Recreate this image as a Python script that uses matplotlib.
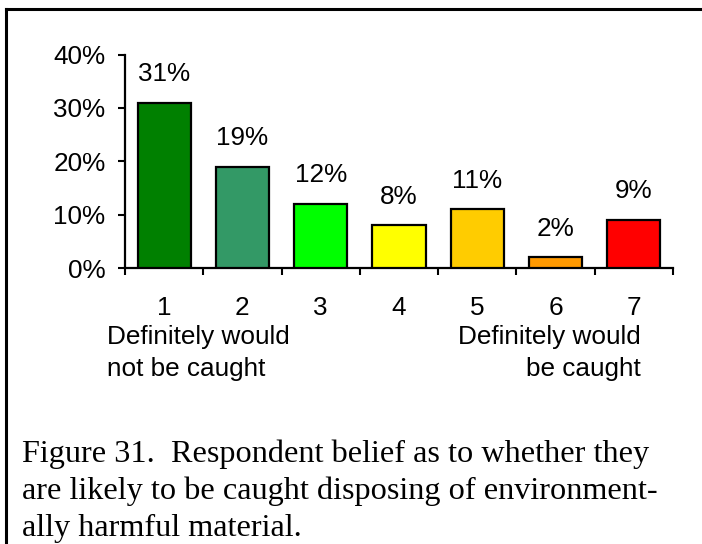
import matplotlib
matplotlib.use("Agg")
import matplotlib.pyplot as plt
from matplotlib.lines import Line2D
from matplotlib.ticker import FuncFormatter

# data
categories = ["1", "2", "3", "4", "5", "6", "7"]
values = [0.31, 0.19, 0.12, 0.08, 0.11, 0.02, 0.09]
bar_colors = ["#008000", "#339966", "#00FF00", "#FFFF00", "#FFCC00", "#FF9900", "#FF0000"]
caption_lines = [
    "Figure 31.  Respondent belief as to whether they",
    "are likely to be caught disposing of environment-",
    "ally harmful material.",
]

W, H = 702, 544
fig = plt.figure(figsize=(W / 100, H / 100), dpi=100)
plt.rcParams["font.family"] = ["Liberation Sans", "DejaVu Sans"]


def fx(px):
    return px / W


def fy(py):
    return 1 - py / H


# axes placed in pixel coordinates
ax = fig.add_axes([fx(125), fy(268), fx(673 - 125), (268 - 54.5) / H])

x = list(range(len(categories)))
ax.bar(x, values, width=0.68, color=bar_colors, edgecolor="black", linewidth=1.6, zorder=3)

for xi, v in zip(x, values):
    ax.annotate(f"{v:.0%}", (xi, v), xytext=(0, 20.5), textcoords="offset points",
                ha="center", va="center", fontsize=18.8)

ax.set_xlim(-0.5, len(categories) - 0.5)
ax.set_ylim(0, 0.4)
ax.set_yticks([0, 0.1, 0.2, 0.3, 0.4])
ax.yaxis.set_major_formatter(FuncFormatter(lambda v, p: f"{v:.0%}"))
ax.tick_params(axis="y", direction="out", length=5, width=1.5, pad=9, labelsize=18.8)

ax.set_xticks(x)
ax.set_xticklabels(categories)
ax.set_xticks([i - 0.5 for i in range(len(categories) + 1)], minor=True)
ax.tick_params(axis="x", which="major", length=0, pad=20, labelsize=18.8)
ax.tick_params(axis="x", which="minor", direction="out", length=5, width=1.5)

for side in ["top", "right"]:
    ax.spines[side].set_visible(False)
for side in ["left", "bottom"]:
    ax.spines[side].set_linewidth(1.6)

# end labels under the axis
fig.text(fx(107), fy(344), "Definitely would", ha="left", va="baseline", fontsize=18.8)
fig.text(fx(107), fy(376), "not be caught", ha="left", va="baseline", fontsize=18.8)
fig.text(fx(641), fy(344), "Definitely would", ha="right", va="baseline", fontsize=18.8)
fig.text(fx(641), fy(376), "be caught", ha="right", va="baseline", fontsize=18.8)

# caption
for i, line in enumerate(caption_lines):
    fig.text(fx(22), fy(462 + i * 37), line, ha="left", va="baseline",
             fontsize=23.2, family=["Liberation Serif", "DejaVu Serif"])

# frame lines (top and left only)
fig.add_artist(Line2D([fx(6), fx(6)], [fy(9), 0], color="black", linewidth=2.2))
fig.add_artist(Line2D([fx(6), 1], [fy(9), fy(9)], color="black", linewidth=2.2))

fig.savefig("out.png", dpi=100)
